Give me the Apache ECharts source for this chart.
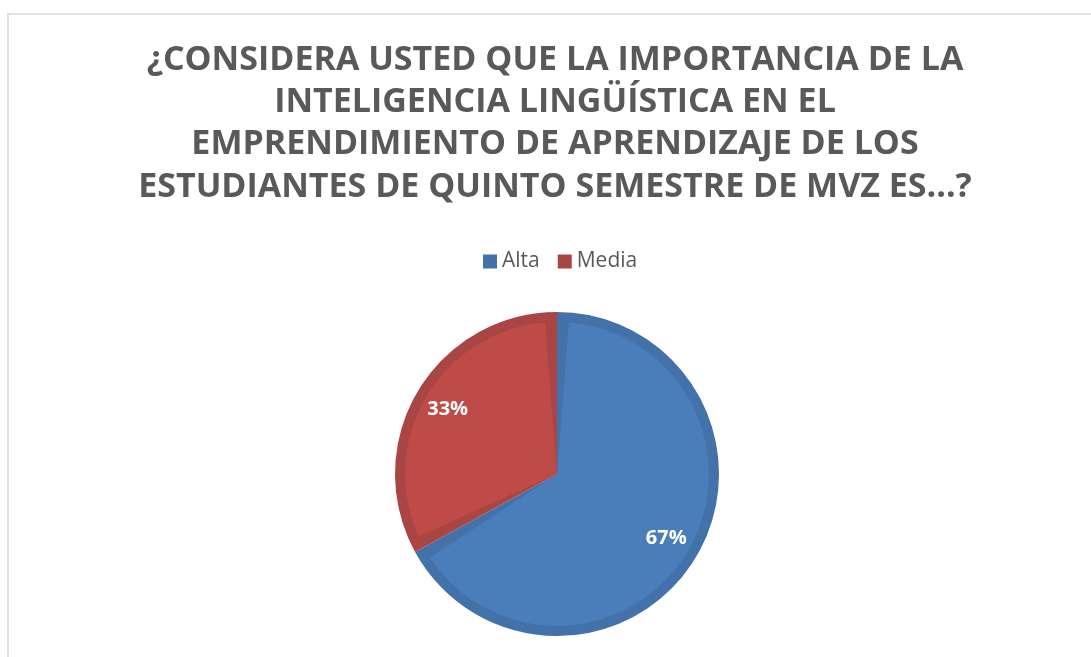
<!DOCTYPE html>
<html><head><meta charset="utf-8">
<script src="https://cdn.jsdelivr.net/npm/echarts@6/dist/echarts.min.js"></script>
<style>html,body{margin:0;padding:0;background:#fff}#c{width:1091px;height:657px}</style>
</head><body><div id="c"></div>
<script>
const categories = ['Alta', 'Media'];
const values = [67, 33];
const titleLines = ['¿CONSIDERA USTED QUE LA IMPORTANCIA DE LA', 'INTELIGENCIA LINGÜÍSTICA EN EL', 'EMPRENDIMIENTO DE APRENDIZAJE DE LOS', 'ESTUDIANTES DE QUINTO SEMESTRE DE MVZ ES...?'];
const fillColors = ['#4A7EBB', '#BE4B48'];
const edgeColors = ['#4371A9', '#A94543'];

const chart = echarts.init(document.getElementById('c'), null, {renderer: 'canvas'});
const mk = (cols) => categories.map((n, i) => ({name: n, value: values[i], itemStyle: {color: cols[i]}}));
const center = ['557', '474'];
chart.setOption({
  animation: false,
  graphic: [{type: 'rect', shape: {x: 8, y: 14, width: 1120, height: 700}, style: {fill: 'none', stroke: '#D9D9D9', lineWidth: 1.5}, silent: true}],
  title: {
    text: titleLines.join('\n'), left: 550, top: 34, padding: 5, textAlign: 'center',
    textStyle: {fontFamily: 'Open Sans', fontWeight: 'bold', fontSize: 34, color: '#595959', lineHeight: 42.3}
  },
  legend: {
    data: categories, top: 251, left: 483, padding: 0, icon: 'rect', itemWidth: 14, itemHeight: 14, itemGap: 18,
    textStyle: {fontFamily: 'Open Sans', fontSize: 21, color: '#595959'}
  },
  series: [
    {type: 'pie', center: center, radius: [0, 162], startAngle: 90, clockwise: true, silent: true,
     label: {show: false}, labelLine: {show: false}, data: mk(edgeColors)},
    {type: 'pie', center: center, radius: [0, 152], startAngle: 90, clockwise: true, silent: true, padAngle: 9,
     label: {show: false}, labelLine: {show: false}, data: mk(fillColors)},
    {type: 'pie', center: center, radius: [100, 148], startAngle: 90, clockwise: true, silent: true,
     itemStyle: {color: 'rgba(0,0,0,0)'}, labelLine: {show: false},
     label: {show: true, position: 'inside', formatter: '{d}%', color: '#fff', fontFamily: 'Open Sans', fontWeight: 'bold', fontSize: 20},
     data: categories.map((n, i) => ({name: n, value: values[i]}))}
  ]
});
</script></body></html>
